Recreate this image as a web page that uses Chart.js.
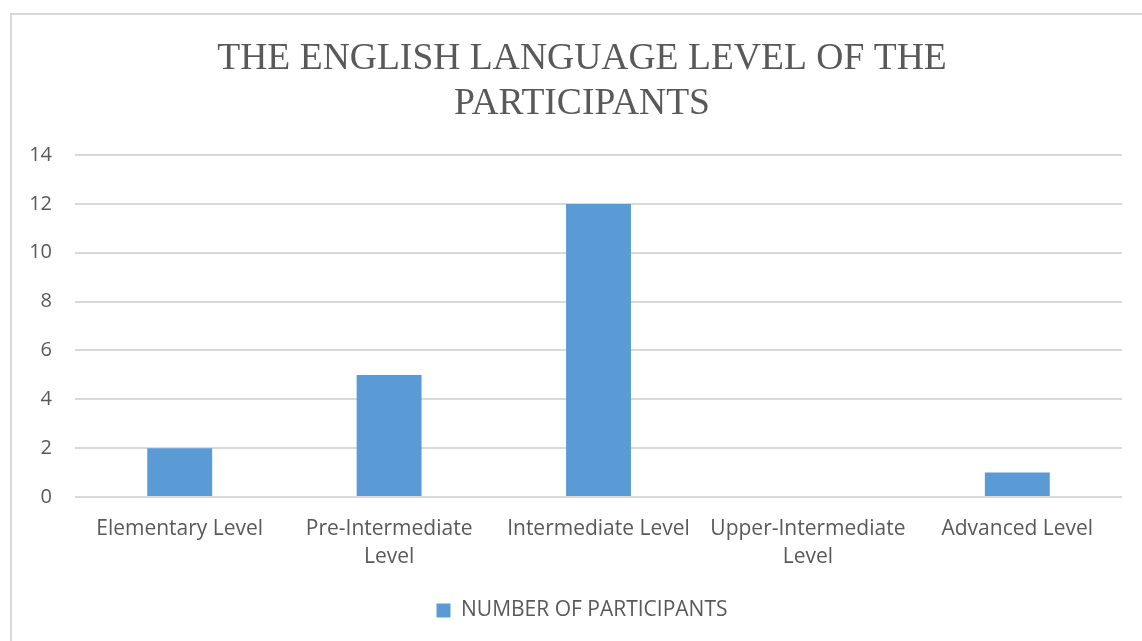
<!DOCTYPE html>
<html>
<head>
<meta charset="utf-8">
<script src="https://cdn.jsdelivr.net/npm/chart.js@4/dist/chart.umd.min.js"></script>
<style>
  body { margin: 0; background: #fff; overflow: hidden; }
  #frame { position: absolute; left: 10px; top: 13px; width: 1200px; height: 700px; border: 2px solid #d9d9d9; }
  #wrap { position: absolute; left: 0; top: 0; width: 1142px; height: 641px; }
</style>
</head>
<body>
<div id="frame"></div>
<div id="wrap"><canvas id="levelChart"></canvas></div>
<script>
// categories and values
const levels = [
  'Elementary Level',
  ['Pre-Intermediate', 'Level'],
  'Intermediate Level',
  ['Upper-Intermediate', 'Level'],
  'Advanced Level'
];
const participants = [2, 5, 12, 0, 1];
const titleLines = ['THE ENGLISH LANGUAGE LEVEL OF THE', 'PARTICIPANTS'];
const seriesName = 'NUMBER OF PARTICIPANTS';

const grey = '#595959';
const sansFont = "'Open Sans', 'Noto Sans', sans-serif";

// the original frame runs past the right edge, so title + legend sit a bit right of centre
const shiftBlocks = {
  id: 'shiftBlocks',
  afterLayout(chart) {
    chart.titleBlock.left += 34;
    chart.legend.left += 34;
  }
};

const ctx = document.getElementById('levelChart').getContext('2d');

new Chart(ctx, {
  type: 'bar',
  data: {
    labels: levels,
    datasets: [{
      label: seriesName,
      data: participants,
      backgroundColor: '#5b9bd5',
      borderWidth: 0,
      categoryPercentage: 1,
      barPercentage: 0.31
    }]
  },
  options: {
    responsive: true,
    maintainAspectRatio: false,
    animation: false,
    layout: {
      padding: { left: 8, right: 20, top: 37, bottom: 10 }
    },
    plugins: {
      title: {
        display: true,
        text: titleLines,
        color: grey,
        font: { family: "'Liberation Serif', serif", size: 37.6, weight: 'normal', lineHeight: 1.197 },
        padding: { top: 0, bottom: 28 }
      },
      legend: {
        position: 'bottom',
        labels: {
          color: grey,
          font: { family: sansFont, size: 21 },
          boxWidth: 14,
          boxHeight: 14,
          padding: 10
        }
      },
      tooltip: { enabled: false }
    },
    scales: {
      x: {
        grid: { display: false },
        border: { display: false },
        ticks: {
          color: grey,
          font: { family: sansFont, size: 21, lineHeight: 1.38 },
          maxRotation: 0,
          autoSkip: false,
          padding: 9
        },
        afterFit(scale) { scale.height += 9; }
      },
      y: {
        min: 0,
        max: 14,
        grid: { color: '#d9d9d9', lineWidth: 2, drawTicks: false },
        border: { display: false },
        ticks: {
          stepSize: 2,
          color: grey,
          font: { family: sansFont, size: 20 },
          padding: 23
        },
        afterFit(scale) { scale.width = 67; }
      }
    }
  },
  plugins: [shiftBlocks]
});
</script>
</body>
</html>
